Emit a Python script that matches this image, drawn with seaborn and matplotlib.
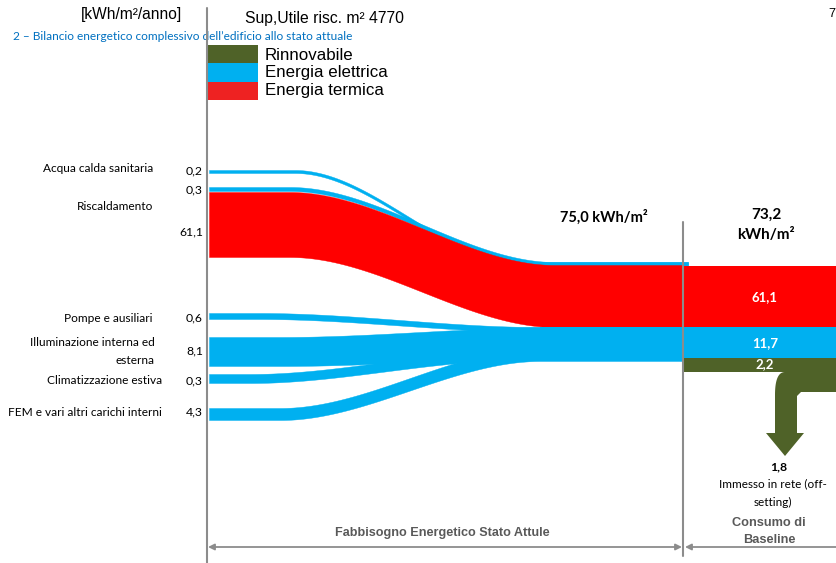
import numpy as np
import matplotlib
matplotlib.use("Agg")
import matplotlib.pyplot as plt
from matplotlib.patches import Rectangle, Polygon
import seaborn as sns

# data (kWh/m2/anno)
voci = ["Acqua calda sanitaria", "", "Riscaldamento", "Pompe e ausiliari",
        "Illuminazione interna ed\nesterna", "Climatizzazione estiva",
        "FEM e vari altri carichi interni"]
valori = [0.2, 0.3, 61.1, 0.6, 8.1, 0.3, 4.3]
vettore = ["el", "el", "term", "el", "el", "el", "el"]
uscite_nomi = ["term", "el", "rinn"]
uscite_valori = [61.1, 11.7, 2.2]
immesso = 1.8
fabbisogno = 75.0
consumo = 73.2
superficie = 4770
legenda = ["Rinnovabile", "Energia elettrica", "Energia termica"]

colori = {"term": "#ff0000", "el": "#00b0f0", "rinn": "#4f6228"}
legenda_colori = ["#4f6228", "#00b0f0", "#ee2222"]

# layout of the schematic (pixel space): top, bottom at left / right, bend start / end
bande = [
    (170, 173, 262, 265, 295, 520),
    (187, 191, 262, 266, 290, 555),
    (192, 257, 265, 327, 290, 555),
    (313, 319, 327, 332, 260, 540),
    (337, 366, 327, 358, 280, 560),
    (374, 383, 350, 360, 250, 520),
    (408, 420, 348, 361, 280, 540),
]
y_voci = [169, None, 207, 318, 351, 380, 413]
y_val = [171, 190, 232, 318, 351, 381, 412]
y_blocchi = [266, 327, 358, 372]

sns.set_theme(style="white")
plt.rcParams["font.family"] = ["Lato", "DejaVu Sans"]

fig = plt.figure(figsize=(8.37, 5.63), dpi=100)
ax = fig.add_axes([0, 0, 1, 1])
ax.set_xlim(0, 837)
ax.set_ylim(563, 0)
ax.axis("off")


def banda(t0, b0, t1, b1, xa, xb, col, x1=683):
    x = np.linspace(209, x1, 400)
    t = np.clip((x - xa) / (xb - xa), 0, 1)
    s = t * t * (3 - 2 * t)
    ax.fill_between(x, t0 + (t1 - t0) * s, b0 + (b1 - b0) * s,
                    color=col, lw=0.3, ec=col, zorder=2)


# electric flows first, thermal on top
order = [i for i in range(len(valori)) if i != 2] + [2]
for i in order:
    t0, b0, t1, b1, xa, xb = bande[i]
    banda(t0, b0, t1, b1, xa, xb, colori[vettore[i]], x1=688 if i < 2 else 683)
ax.fill_between([540, 683], 327, 359, color=colori["el"], lw=0, zorder=2)

# left labels
fs_lab = 8.6
for i, v in enumerate(valori):
    if voci[i]:
        if "\n" in voci[i]:
            a, b = voci[i].split("\n")
            ax.text(155, y_voci[i] - 9, a, ha="right", va="center", fontsize=fs_lab, color="black")
            ax.text(155, y_voci[i] + 9, b, ha="right", va="center", fontsize=fs_lab, color="black")
        else:
            xr = 162 if i >= 5 else 153
            ax.text(xr, y_voci[i], voci[i], ha="right", va="center", fontsize=fs_lab, color="black")
    ax.text(203, y_val[i], f"{v:.1f}".replace(".", ","), ha="right", va="center",
            fontsize=8.8, color="black")

# right blocks
for k, nome in enumerate(uscite_nomi):
    x_end = 837 if nome != "rinn" else 790
    ax.fill_between([683, x_end], y_blocchi[k], y_blocchi[k + 1], color=colori[nome], lw=0, zorder=2)
    ax.text(765, (y_blocchi[k] + y_blocchi[k + 1]) / 2 + (1 if nome != "rinn" else -1),
            f"{uscite_valori[k]:.1f}".replace(".", ","), ha="center", va="center",
            fontsize=9.5, fontweight="bold", color="white", zorder=4)

# turning arrow of the renewable export
t = np.linspace(0, 1, 20)
cx = (1 - t) ** 2 * 785 + 2 * (1 - t) * t * 775 + t ** 2 * 775
cy = (1 - t) ** 2 * 372 + 2 * (1 - t) * t * 372 + t ** 2 * 395
pts = [(780, 358), (837, 358), (837, 392), (801, 392), (797, 396), (797, 433),
       (804, 433), (785, 456), (766, 433), (775, 433)] + list(zip(cx[::-1], cy[::-1]))
ax.add_patch(Polygon(pts, closed=True, color=colori["rinn"], lw=0, zorder=2))

ax.text(779, 467, f"{immesso:.1f}".replace(".", ","), ha="center", va="center",
        fontsize=8.8, fontweight="bold", color="black")
ax.text(773, 484, "Immesso in rete (off-", ha="center", va="center", fontsize=8.5, color="black")
ax.text(773, 502, "setting)", ha="center", va="center", fontsize=8.5, color="black")

ax.text(604, 217, f"{fabbisogno:.1f} kWh/m²".replace(".", ","), ha="center", va="center",
        fontsize=10.5, fontweight="bold", color="black")
ax.text(766, 215, f"{consumo:.1f}".replace(".", ","), ha="center", va="center",
        fontsize=11, fontweight="bold", color="black")
ax.text(766, 235, "kWh/m²", ha="center", va="center", fontsize=11, fontweight="bold", color="black")

# axes lines
ax.plot([207, 207], [8, 563], color="#8c8c8c", lw=1.5, zorder=5)
ax.plot([683, 683], [222, 556], color="#8c8c8c", lw=1.5, zorder=5)
arr = dict(arrowstyle="<|-|>", color="#8c8c8c", lw=1.3, mutation_scale=9, shrinkA=0, shrinkB=0)
ax.annotate("", xy=(208, 547), xytext=(682, 547), arrowprops=arr)
ax.annotate("", xy=(685, 547), xytext=(845, 547), arrowprops=arr)
ax.text(442, 533, "Fabbisogno Energetico Stato Attule", ha="center", va="center",
        fontsize=9.1, fontweight="bold", color="#595959", family="Liberation Sans")
ax.text(769, 523, "Consumo di", ha="center", va="center",
        fontsize=9.2, fontweight="bold", color="#595959", family="Liberation Sans")
ax.text(769, 540, "Baseline", ha="center", va="center",
        fontsize=9.2, fontweight="bold", color="#595959", family="Liberation Sans")

# header
ax.text(182, 15, "[kWh/m²/anno]", ha="right", va="center", fontsize=11.2,
        color="black", family="Liberation Sans")
ax.text(245, 18, f"Sup,Utile risc. m² {superficie}", ha="left", va="center", fontsize=11.3,
        color="black", family="Liberation Sans")
ax.text(352, 37, "2 – Bilancio energetico complessivo dell’edificio allo stato attuale",
        ha="right", va="center", fontsize=8.6, color="#0070c0")
ax.text(832, 14, "7", ha="center", va="center", fontsize=9, color="black", family="Liberation Sans")

# legend
for k, lab in enumerate(legenda):
    ax.add_patch(Rectangle((208, 45 + 18.3 * k), 50, 18.3, color=legenda_colori[k], lw=0, zorder=3))
    ax.text(265, 55 + 17.5 * k, lab, ha="left", va="center", fontsize=12.2,
            color="black", family="Liberation Sans")

fig.savefig("out.png", dpi=100)
